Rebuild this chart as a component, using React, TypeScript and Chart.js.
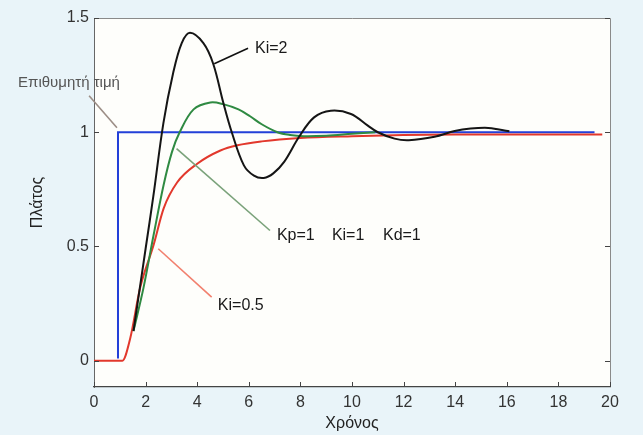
import React, { useEffect, useRef } from 'react';
import { Chart, registerables } from 'chart.js';

Chart.register(...registerables);

// ---- axes ----
const X_TICKS = [0, 2, 4, 6, 8, 10, 12, 14, 16, 18, 20];
const Y_TICKS = [0, 0.5, 1, 1.5];
const X_MIN = 0;
const X_MAX = 20;
const Y_MIN = -0.115;
const Y_MAX = 1.5;
const X_TITLE = 'Χρόνος';
const Y_TITLE = 'Πλάτος';

// ---- series: setpoint (Επιθυμητή τιμή) ----
const SET_T = [0.93, 0.93, 19.4];
const SET_Y = [0.01, 1, 1];

// ---- series: Ki = 0.5 ----
const RED_T = [0, 1.1, 1.4, 1.79, 2.31, 2.7, 3.22, 4.0, 4.9, 5.56, 6.5, 8, 10, 12, 14, 17, 19.7];
const RED_Y = [0, 0, 0.096, 0.32, 0.507, 0.667, 0.78, 0.862, 0.92, 0.943, 0.96, 0.975, 0.983, 0.988, 0.99, 0.99, 0.99];

// ---- series: Ki = 1 ----
const GREEN_T = [1.53, 1.92, 2.31, 2.7, 3.02, 3.32, 3.86, 4.51, 5.0, 5.6, 6.05, 6.5, 7.11, 7.6, 8.13, 9.0, 10.0, 10.9];
const GREEN_Y = [0.13, 0.32, 0.55, 0.77, 0.913, 1.0, 1.1, 1.13, 1.123, 1.1, 1.07, 1.035, 1.0, 0.988, 0.983, 0.985, 0.993, 1.0];

// ---- series: Ki = 2 ----
const BLACK_T = [1.53, 2.0, 2.3, 2.69, 3.07, 3.4, 3.72, 4.24, 4.62, 5.01, 5.34, 5.81, 6.2, 6.58, 6.95, 7.37, 7.95, 8.53, 9.18, 9.96, 10.6, 11.0, 11.65, 12.2, 13.2, 13.98, 14.6, 15.28, 15.7, 16.1];
const BLACK_Y = [0.13, 0.49, 0.72, 1.04, 1.26, 1.39, 1.435, 1.39, 1.3, 1.13, 1.0, 0.855, 0.81, 0.8, 0.82, 0.87, 0.98, 1.065, 1.094, 1.08, 1.03, 1.0, 0.972, 0.965, 0.98, 1.005, 1.016, 1.019, 1.012, 1.004];

// ---- annotations (anchored in data units) ----
const NOTE_TEXT = ['Επιθυμητή τιμή', 'Ki=2', 'Kp=1', 'Ki=1', 'Kd=1', 'Ki=0.5'];
const NOTE_T = [-0.97, 6.24, 7.09, 9.22, 11.2, 4.8];
const NOTE_Y = [1.215, 1.368, 0.548, 0.548, 0.548, 0.241];
const LEADER_T0 = [-0.19, 4.66, 3.2, 2.49];
const LEADER_Y0 = [1.16, 1.3, 0.928, 0.49];
const LEADER_T1 = [0.89, 5.97, 6.82, 4.56];
const LEADER_Y1 = [1.02, 1.368, 0.57, 0.278];

const FONT = '"Liberation Sans", Arial, Helvetica, sans-serif';
const PAGE_BG = '#e9f4f9';
const PLOT_BG = '#fefefb';

const toPts = (t: number[], y: number[]) => t.map((v, i) => ({ x: v, y: y[i] }));

const overlay = {
  id: 'overlay',
  beforeDraw(chart: any) {
    const { ctx, chartArea: a, width, height } = chart;
    ctx.save();
    ctx.fillStyle = PAGE_BG;
    ctx.fillRect(0, 0, width, height);
    ctx.fillStyle = PLOT_BG;
    ctx.fillRect(a.left, a.top, a.right - a.left, a.bottom - a.top);
    ctx.restore();
  },
  afterDatasetsDraw(chart: any) {
    const { ctx, chartArea: a } = chart;
    const xs = chart.scales.x;
    const ys = chart.scales.y;
    ctx.save();
    // frame (top & right)
    ctx.strokeStyle = '#8a8a8a';
    ctx.lineWidth = 1;
    ctx.beginPath();
    ctx.moveTo(a.left, a.top + 0.5);
    ctx.lineTo(a.right + 0.5, a.top + 0.5);
    ctx.lineTo(a.right + 0.5, a.bottom);
    ctx.stroke();
    // inward tick marks
    ctx.strokeStyle = '#444';
    ctx.beginPath();
    X_TICKS.forEach((v) => {
      const px = Math.round(xs.getPixelForValue(v)) + 0.5;
      ctx.moveTo(px, a.bottom);
      ctx.lineTo(px, a.bottom - 5);
    });
    Y_TICKS.forEach((v) => {
      const py = Math.round(ys.getPixelForValue(v)) + 0.5;
      ctx.moveTo(a.left, py);
      ctx.lineTo(a.left + 5, py);
      ctx.moveTo(a.right, py);
      ctx.lineTo(a.right - 5, py);
    });
    ctx.stroke();

    // leader lines
    const leaderColors = ['#9c8e86', '#111111', '#7aa27a', '#f2806e'];
    LEADER_T0.forEach((t0, i) => {
      ctx.strokeStyle = leaderColors[i];
      ctx.lineWidth = 1.6;
      ctx.beginPath();
      ctx.moveTo(xs.getPixelForValue(t0), ys.getPixelForValue(LEADER_Y0[i]));
      ctx.lineTo(xs.getPixelForValue(LEADER_T1[i]), ys.getPixelForValue(LEADER_Y1[i]));
      ctx.stroke();
    });

    // texts
    ctx.textBaseline = 'middle';
    NOTE_TEXT.forEach((txt, i) => {
      const first = i === 0;
      ctx.font = (first ? '15px ' : '16px ') + FONT;
      ctx.fillStyle = first ? '#555555' : '#1a1a1a';
      ctx.textAlign = first ? 'center' : 'left';
      ctx.fillText(txt, xs.getPixelForValue(NOTE_T[i]), ys.getPixelForValue(NOTE_Y[i]));
    });
    ctx.restore();
  },
};

export default function App() {
  const ref = useRef<HTMLCanvasElement | null>(null);

  useEffect(() => {
    if (!ref.current) return;
    const line = (data: any, color: string, mode: 'bezier' | 'monotone' | 'straight') => ({
      data,
      borderColor: color,
      backgroundColor: color,
      borderWidth: 2,
      pointRadius: 0,
      fill: false,
      tension: mode === 'bezier' ? 0.35 : 0,
      cubicInterpolationMode: mode === 'monotone' ? 'monotone' : 'default',
    });
    const chart = new Chart(ref.current, {
      type: 'line',
      data: {
        datasets: [
          { label: 'Ki=2', ...line(toPts(BLACK_T, BLACK_Y), '#151515', 'bezier') },
          { label: 'Ki=1', ...line(toPts(GREEN_T, GREEN_Y), '#2f8a42', 'bezier') },
          { label: 'Ki=0.5', ...line(toPts(RED_T, RED_Y), '#e2382c', 'monotone') },
          { label: 'Επιθυμητή τιμή', ...line(toPts(SET_T, SET_Y), '#2340d8', 'straight') },
        ] as any,
      },
      options: {
        responsive: false,
        animation: false,
        parsing: false,
        normalized: true,
        layout: { padding: { left: 0, right: 33, top: 18, bottom: 0 } },
        plugins: {
          legend: { display: false },
          tooltip: { enabled: false },
        },
        scales: {
          x: {
            type: 'linear',
            min: X_MIN,
            max: X_MAX,
            afterBuildTicks: (s: any) => {
              s.ticks = X_TICKS.map((value) => ({ value }));
            },
            afterFit: (s: any) => {
              s.height = 48;
            },
            grid: { display: false, drawTicks: false },
            border: { display: true, color: '#444', width: 1.2 },
            ticks: {
              padding: 6,
              color: '#333',
              font: { family: FONT, size: 16 },
              maxRotation: 0,
              callback: (v: any) => String(v),
            },
            title: {
              display: true,
              text: X_TITLE,
              color: '#222',
              font: { family: FONT, size: 16 },
              padding: { top: 0, bottom: 2 },
            },
          },
          y: {
            type: 'linear',
            min: Y_MIN,
            max: Y_MAX,
            afterBuildTicks: (s: any) => {
              s.ticks = Y_TICKS.map((value) => ({ value }));
            },
            afterFit: (s: any) => {
              s.width = 94;
            },
            grid: { display: false, drawTicks: false },
            border: { display: true, color: '#666', width: 1 },
            ticks: {
              padding: 5,
              color: '#333',
              font: { family: FONT, size: 16 },
              callback: (v: any) => String(v),
            },
            title: {
              display: true,
              text: Y_TITLE,
              color: '#222',
              font: { family: FONT, size: 16 },
              padding: { top: 28, bottom: 0 },
            },
          },
        },
      } as any,
      plugins: [overlay],
    });
    return () => chart.destroy();
  }, []);

  return (
    <div style={{ position: 'fixed', left: 0, top: 0, width: 643, height: 435, background: PAGE_BG }}>
      <canvas ref={ref} width={643} height={435} style={{ display: 'block', width: 643, height: 435 }} />
    </div>
  );
}
